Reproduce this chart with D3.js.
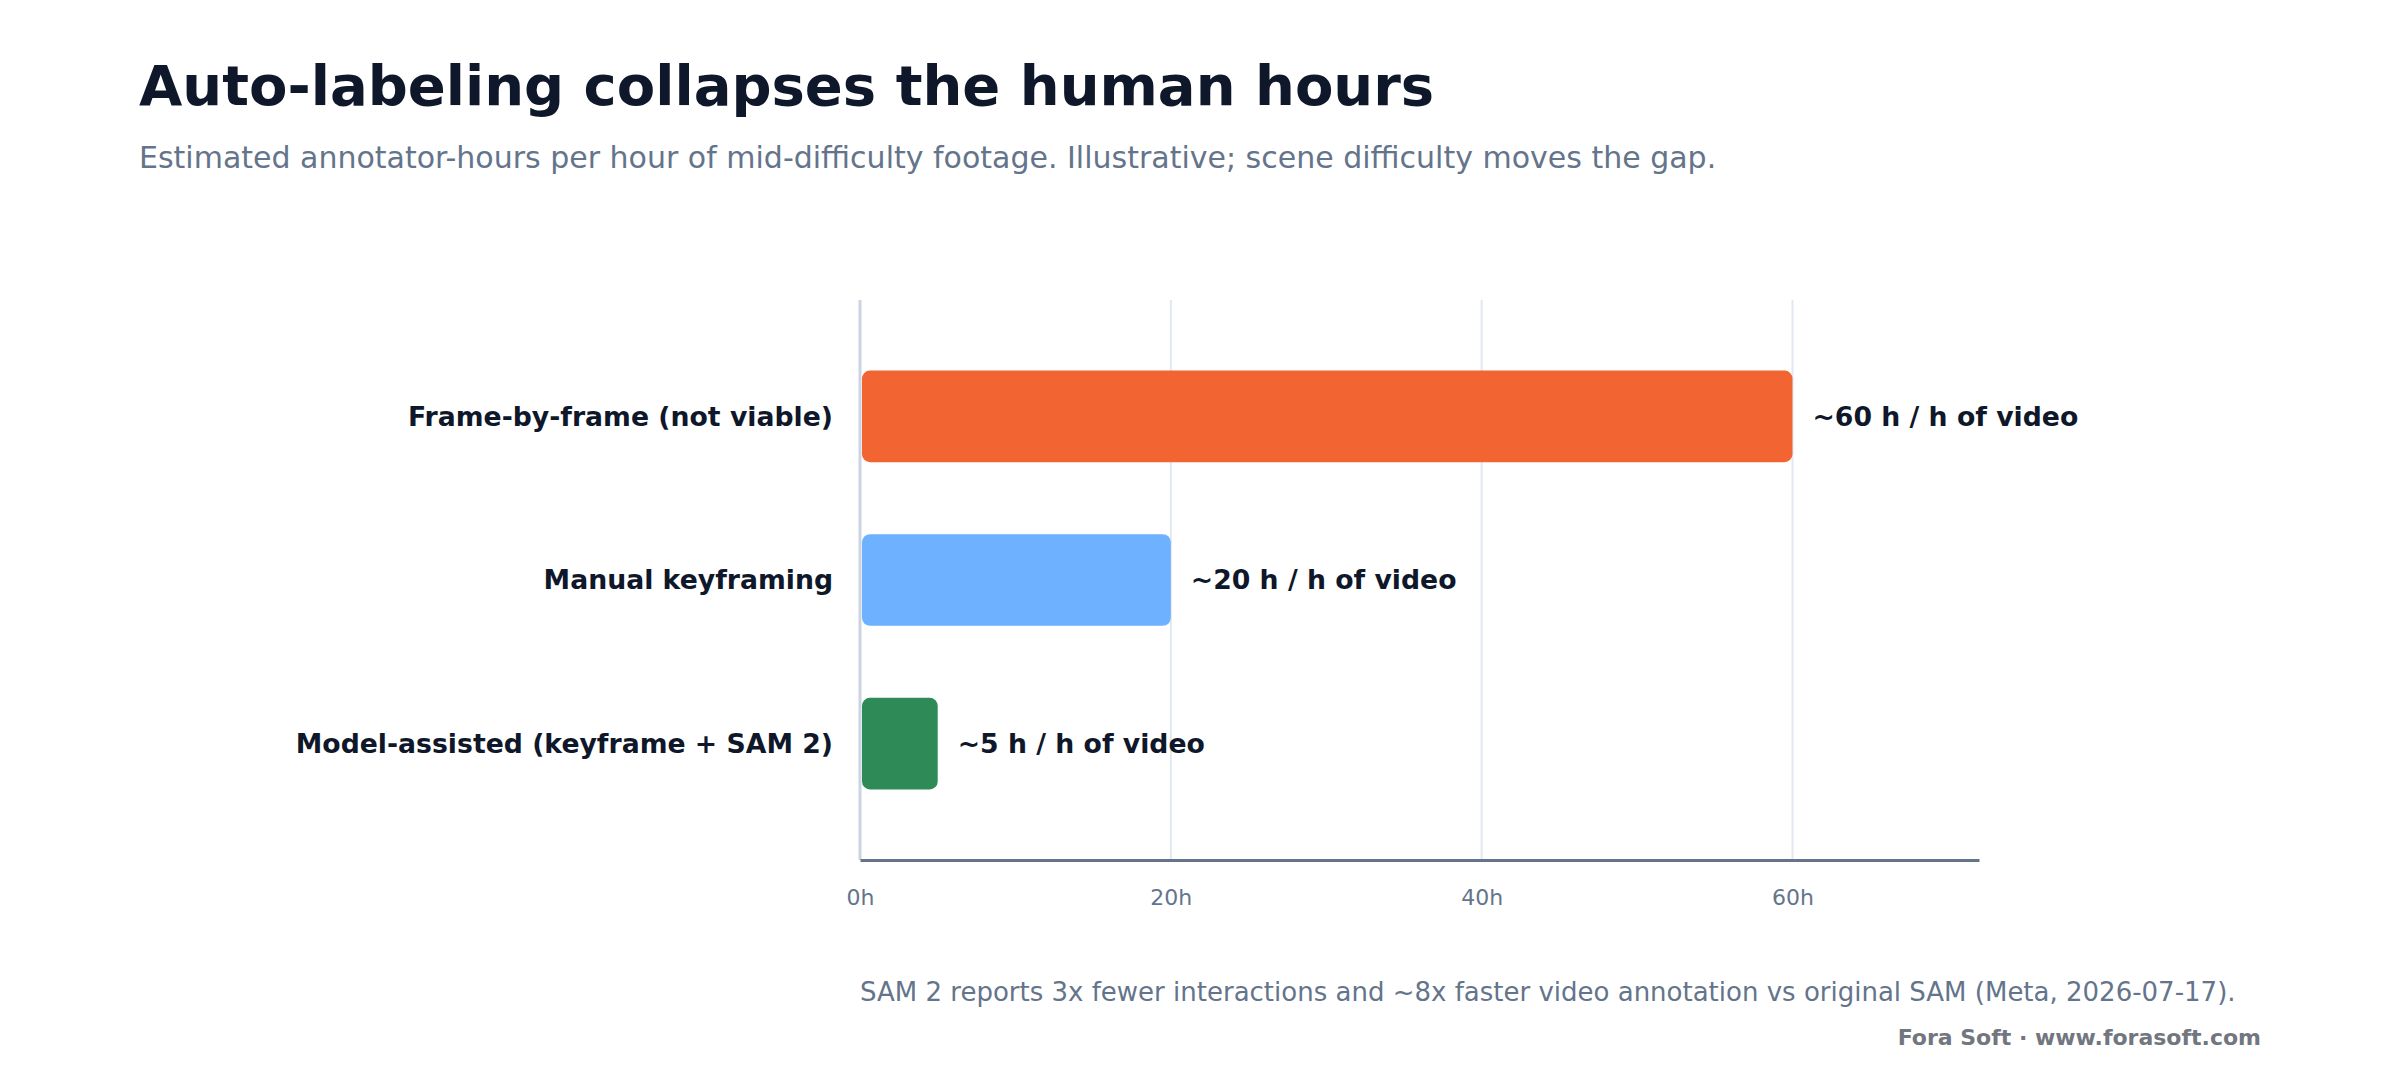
<!DOCTYPE html>
<html>
<head>
<meta charset="utf-8">
<script src="https://cdn.jsdelivr.net/npm/d3@7"></script>
<style>
  body { margin: 0; background: #ffffff; }
  svg { display: block; font-family: "DejaVu Sans", sans-serif; }
</style>
</head>
<body>
<svg id="chart" width="2400" height="1080"></svg>
<script>

// data
var categories = [ 'Frame-by-frame (not viable)', 'Manual keyframing', 'Model-assisted (keyframe + SAM 2)' ];
var hours = [ 60, 20, 5 ];
var valueLabels = [ '~60 h / h of video', '~20 h / h of video', '~5 h / h of video' ];
var barColors = [ '#f26532', '#6eb1ff', '#2e8b57' ];
var ticks = [ 0, 20, 40, 60 ];

var svg = d3.select('#chart');

var plotLeft = 860,
    plotRight = 1979,
    plotTop = 300,
    plotBottom = 860;

var x = d3.scaleLinear()
    .domain([ 0, 72 ])
    .range([ plotLeft, plotRight ]);

var y = d3.scaleBand()
    .domain( categories )
    .range([ plotTop + 1, plotBottom - 1 ])
    .paddingInner( 0.44 )
    .paddingOuter( 0.425 );

// title
svg.append('text')
    .attr('x', 139)
    .attr('y', 105)
    .style('font-size', '56px')
    .style('font-weight', 'bold')
    .style('fill', '#0f172a')
    .text('Auto-labeling collapses the human hours');

svg.append('text')
    .attr('x', 139)
    .attr('y', 168)
    .style('font-size', '30px')
    .style('fill', '#64748b')
    .text('Estimated annotator-hours per hour of mid-difficulty footage. Illustrative; scene difficulty moves the gap.');

// grid
svg.append('g')
    .selectAll('line')
    .data( ticks.slice( 1 ) )
    .enter().append('line')
    .attr('x1', function ( d ) { return x( d ) })
    .attr('x2', function ( d ) { return x( d ) })
    .attr('y1', plotTop)
    .attr('y2', plotBottom)
    .style('stroke', '#e2e8f0')
    .style('stroke-width', 2);

// left spine
svg.append('line')
    .attr('x1', plotLeft)
    .attr('x2', plotLeft)
    .attr('y1', plotTop)
    .attr('y2', plotBottom)
    .style('stroke', '#cbd5e1')
    .style('stroke-width', 3);

// bars
svg.append('g')
    .selectAll('rect')
    .data( hours )
    .enter().append('rect')
    .attr('x', x( 0 ) + 2)
    .attr('y', function ( d, i ) { return y( categories[ i ] ) })
    .attr('width', function ( d ) { return x( d ) - x( 0 ) - 2 })
    .attr('height', y.bandwidth())
    .attr('rx', 8)
    .style('fill', function ( d, i ) { return barColors[ i ] });

// category labels
svg.append('g')
    .selectAll('text')
    .data( categories )
    .enter().append('text')
    .attr('x', 833)
    .attr('y', function ( d ) { return y( d ) + y.bandwidth() / 2 })
    .attr('dy', '0.35em')
    .attr('text-anchor', 'end')
    .style('font-size', '26.7px')
    .style('font-weight', 'bold')
    .style('fill', '#0f172a')
    .text( function ( d ) { return d });

// value labels
svg.append('g')
    .selectAll('text')
    .data( hours )
    .enter().append('text')
    .attr('x', function ( d ) { return x( d ) + 20 })
    .attr('y', function ( d, i ) { return y( categories[ i ] ) + y.bandwidth() / 2 })
    .attr('dy', '0.35em')
    .style('font-size', '26.7px')
    .style('font-weight', 'bold')
    .style('fill', '#0f172a')
    .text( function ( d, i ) { return valueLabels[ i ] });

// x axis
var xAxis = svg.append('g')
    .attr('transform', 'translate(0,' + plotBottom + ')')
    .call( d3.axisBottom( x ).tickValues( ticks ).tickSize( 0 ).tickPadding( 29 )
        .tickFormat( function ( d ) { return d + 'h' }) );

xAxis.select('.domain')
    .style('stroke', '#64748b')
    .style('stroke-width', 3);

xAxis.selectAll('text')
    .style('font-family', '"DejaVu Sans", sans-serif')
    .style('font-size', '22px')
    .style('fill', '#64748b');

// footnote
svg.append('text')
    .attr('x', 860)
    .attr('y', 1001)
    .style('font-size', '26px')
    .style('fill', '#64748b')
    .text('SAM 2 reports 3x fewer interactions and ~8x faster video annotation vs original SAM (Meta, 2026-07-17).');

svg.append('text')
    .attr('x', 2261)
    .attr('y', 1045)
    .attr('text-anchor', 'end')
    .style('font-size', '22px')
    .style('font-weight', 'bold')
    .style('fill', '#71767f')
    .text('Fora Soft \u00b7 www.forasoft.com');

</script>
</body>
</html>
